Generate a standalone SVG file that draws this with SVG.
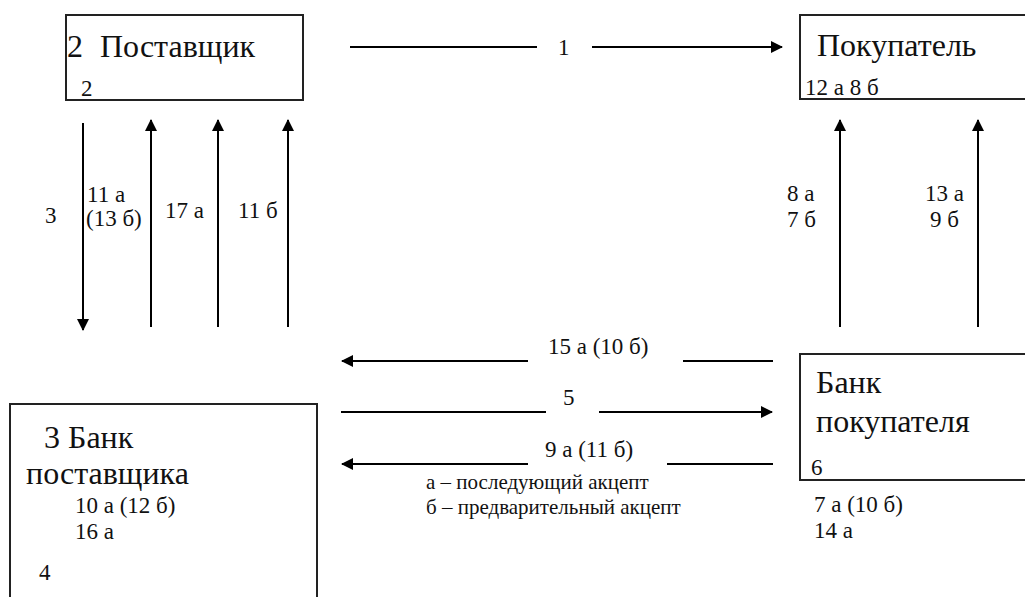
<svg xmlns="http://www.w3.org/2000/svg" width="1025" height="597" viewBox="0 0 1025 597">
<style>
.box{fill:#fff;stroke:#222;stroke-width:2}
.ln{stroke:#000;stroke-width:2;fill:none}
.big{font-size:32px;fill:#111}
.sm{font-size:23px;fill:#111}
.lg{font-size:21px;fill:#111}
</style>
<defs>
<marker id="ah" viewBox="0 0 12 12" refX="11" refY="6" markerWidth="12" markerHeight="12" markerUnits="userSpaceOnUse" orient="auto">
<path d="M0,0 L12,6 L0,12 Z" fill="#000"/>
</marker>
</defs>
<g font-family="Liberation Serif, serif">
<g id="supplier">
<rect class="box" x="66" y="15" width="237" height="85"/>
<text class="big" x="67" y="57">2</text>
<text class="big" x="100" y="57">Поставщик</text>
<text class="sm" x="81" y="96">2</text>
</g>
<g id="buyer">
<rect class="box" x="800" y="15" width="240" height="84"/>
<text class="big" x="817" y="56">Покупатель</text>
<text class="sm" x="805" y="95">12 а 8 б</text>
</g>
<g id="supplier-bank">
<rect class="box" x="10" y="404" width="307" height="210"/>
<text class="big" x="44" y="448">3 Банк</text>
<text class="big" x="26" y="484">поставщика</text>
<text class="sm"><tspan x="75" y="513">10 а (12 б)</tspan><tspan x="75" y="539">16 а</tspan></text>
<text class="sm" x="39" y="580">4</text>
</g>
<g id="buyer-bank">
<rect class="box" x="800" y="354" width="240" height="126"/>
<text class="big"><tspan x="816" y="393">Банк</tspan><tspan x="816" y="432">покупателя</tspan></text>
<text class="sm" x="811" y="475">6</text>
<text class="sm"><tspan x="814" y="512">7 а (10 б)</tspan><tspan x="814" y="538">14 а</tspan></text>
</g>
<g id="connectors">
<line class="ln" x1="350" y1="47" x2="537" y2="47"/>
<line class="ln" x1="592" y1="47" x2="782" y2="47" marker-end="url(#ah)"/>
<line class="ln" x1="83" y1="123" x2="83" y2="330" marker-end="url(#ah)"/>
<line class="ln" x1="151" y1="327" x2="151" y2="120" marker-end="url(#ah)"/>
<line class="ln" x1="218" y1="327" x2="218" y2="120" marker-end="url(#ah)"/>
<line class="ln" x1="288" y1="327" x2="288" y2="120" marker-end="url(#ah)"/>
<line class="ln" x1="840" y1="327" x2="840" y2="120" marker-end="url(#ah)"/>
<line class="ln" x1="978" y1="327" x2="978" y2="120" marker-end="url(#ah)"/>
<line class="ln" x1="528" y1="361" x2="342" y2="361" marker-end="url(#ah)"/>
<line class="ln" x1="683" y1="361" x2="773" y2="361"/>
<line class="ln" x1="341" y1="412" x2="546" y2="412"/>
<line class="ln" x1="599" y1="412" x2="772" y2="412" marker-end="url(#ah)"/>
<line class="ln" x1="528" y1="464" x2="342" y2="464" marker-end="url(#ah)"/>
<line class="ln" x1="667" y1="464" x2="773" y2="464"/>
</g>
<g id="labels">
<text class="sm" x="558" y="55">1</text>
<text class="sm" x="45" y="223">3</text>
<text class="sm"><tspan x="87" y="202">11 а</tspan><tspan x="86" y="226">(13 б)</tspan></text>
<text class="sm" x="165" y="218">17 а</text>
<text class="sm" x="238" y="218">11 б</text>
<text class="sm"><tspan x="787" y="201">8 а</tspan><tspan x="787" y="227">7 б</tspan></text>
<text class="sm"><tspan x="925" y="201">13 а</tspan><tspan x="930" y="227">9 б</tspan></text>
<text class="sm" x="548" y="354">15 а (10 б)</text>
<text class="sm" x="563" y="405">5</text>
<text class="sm" x="545" y="457">9 а (11 б)</text>
<text class="lg"><tspan x="426" y="489">а – последующий акцепт</tspan><tspan x="426" y="514">б – предварительный акцепт</tspan></text>
</g>
</g>
</svg>
